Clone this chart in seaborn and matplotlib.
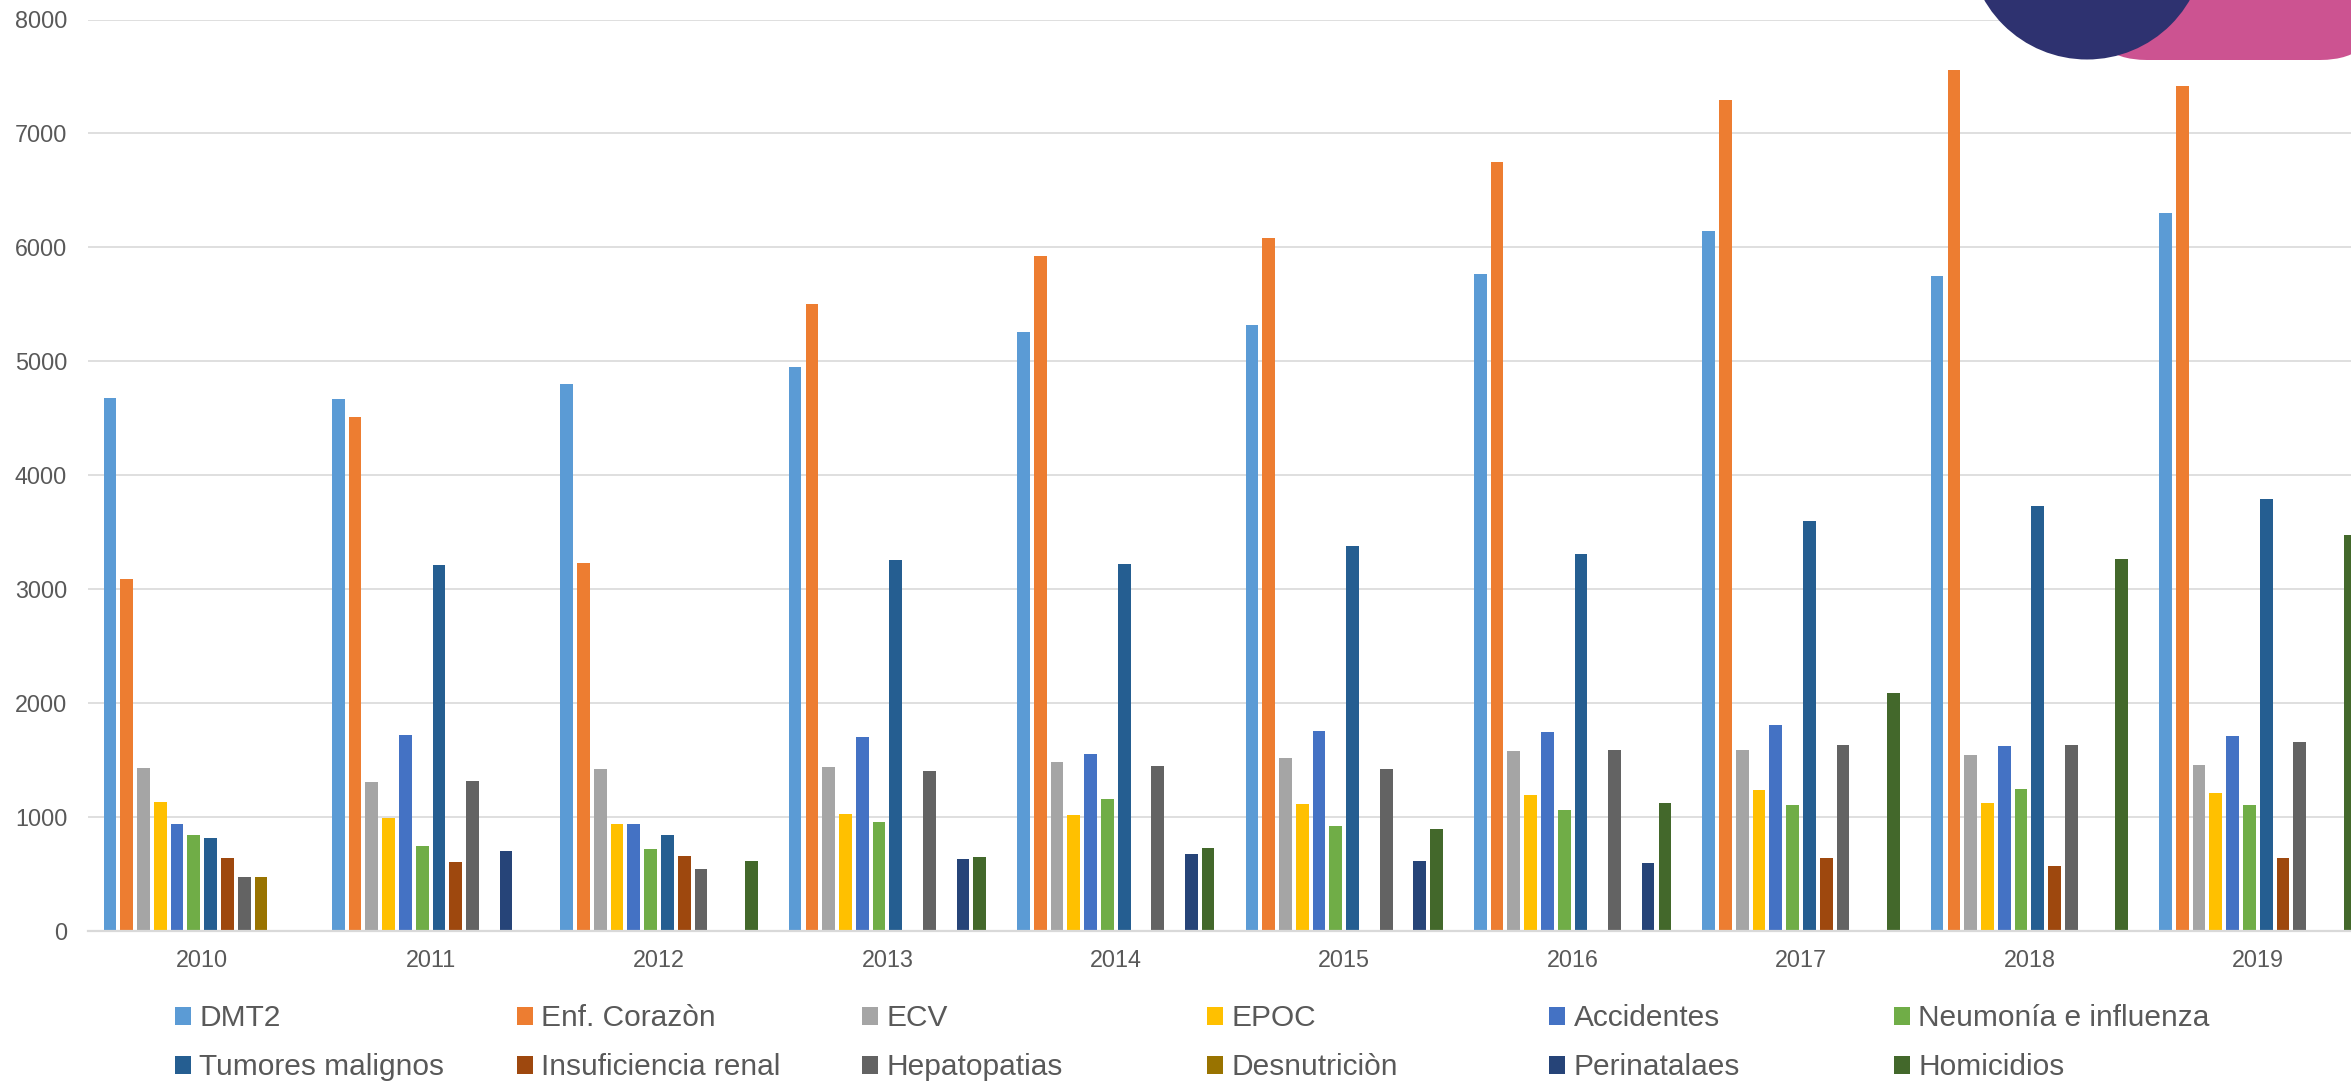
import numpy as np
import pandas as pd
import matplotlib
matplotlib.use("Agg")
import matplotlib.pyplot as plt
import seaborn as sns
from matplotlib.patches import Circle, FancyBboxPatch

nan = np.nan
years = ["2010", "2011", "2012", "2013", "2014", "2015", "2016", "2017", "2018", "2019"]
causes = ["DMT2", "Enf. Corazòn", "ECV", "EPOC", "Accidentes", "Neumonía e influenza",
          "Tumores malignos", "Insuficiencia renal", "Hepatopatias", "Desnutriciòn",
          "Perinatalaes", "Homicidios"]
colors = ["#5B9BD5", "#ED7D31", "#A5A5A5", "#FFC000", "#4472C4", "#70AD47",
          "#255E91", "#9E480E", "#636363", "#997300", "#264478", "#43682B"]

dmt2 = [4675, 4665, 4800, 4950, 5260, 5320, 5770, 6140, 5750, 6305]
enf_corazon = [3090, 4510, 3230, 5500, 5925, 6080, 6745, 7290, 7560, 7415]
ecv = [1430, 1310, 1418, 1436, 1485, 1518, 1579, 1585, 1547, 1459]
epoc = [1129, 988, 939, 1023, 1015, 1111, 1190, 1234, 1120, 1208]
accidentes = [941, 1716, 941, 1705, 1556, 1757, 1749, 1807, 1626, 1713]
neumonia = [845, 743, 719, 959, 1158, 924, 1058, 1105, 1243, 1108]
tumores = [819, 3208, 839, 3257, 3225, 3377, 3313, 3597, 3727, 3790]
insuf_renal = [643, 602, 655, nan, nan, nan, nan, 637, 573, 643]
hepatopatias = [477, 1319, 547, 1401, 1444, 1424, 1591, 1635, 1635, 1655]
desnutricion = [471, nan, nan, nan, nan, nan, nan, nan, nan, nan]
perinatales = [nan, 705, nan, 629, 678, 617, 599, nan, nan, nan]
homicidios = [nan, nan, 611, 646, 731, 898, 1120, 2091, 3263, 3477]

series = [dmt2, enf_corazon, ecv, epoc, accidentes, neumonia, tumores,
          insuf_renal, hepatopatias, desnutricion, perinatales, homicidios]

rows = []
for cause, vals in zip(causes, series):
    for yr, v in zip(years, vals):
        if not np.isnan(v):
            rows.append({"year": yr, "cause": cause, "value": v})
df = pd.DataFrame(rows)

sns.set_style("white")
plt.rcParams["font.family"] = ["Liberation Sans", "DejaVu Sans"]

W, H = 2351, 1082
fig = plt.figure(figsize=(W / 100, H / 100), dpi=100)
ax_left, ax_right = 88, 88 + 2284
ax_top, ax_bottom = 19.5, 931
ax = fig.add_axes([ax_left / W, 1 - ax_bottom / H, (ax_right - ax_left) / W, (ax_bottom - ax_top) / H])

sns.barplot(data=df, x="year", y="value", hue="cause", order=years, hue_order=causes,
            palette=colors, width=0.8816, dodge=True, errorbar=None, saturation=1,
            ax=ax, legend=True)

handles, labels = ax.get_legend_handles_labels()
if ax.legend_ is not None:
    ax.legend_.remove()

for p in ax.patches:
    w = p.get_width()
    p.set_x(p.get_x() + w * 0.12)
    p.set_width(w * 0.76)
    p.set_linewidth(0)

ax.set_xlim(-0.5, 9.5)
ax.set_ylim(0, 8000)
ax.set_yticks(range(0, 8001, 1000))
ax.set_xlabel("")
ax.set_ylabel("")
ax.set_axisbelow(True)
ax.grid(axis="y", color="#D9D9D9", linewidth=1.2)
ax.grid(axis="x", visible=False)
for s in ["top", "right", "left"]:
    ax.spines[s].set_visible(False)
ax.spines["bottom"].set_color("#D9D9D9")
ax.spines["bottom"].set_linewidth(1.6)
ax.tick_params(axis="y", length=0, pad=15, labelsize=16.8, labelcolor="#595959")
ax.tick_params(axis="x", length=0, pad=13, labelsize=16.8, labelcolor="#595959")

# Legend: 6 columns, 2 rows, row-major order
col_x = [175, 517, 862, 1207, 1549, 1894]
leg_top = 1004.5
for c in range(6):
    hs = [handles[c], handles[c + 6]]
    ls = [labels[c], labels[c + 6]]
    leg = fig.legend(hs, ls, loc="upper left",
                     bbox_to_anchor=(col_x[c] / W, 1 - leg_top / H),
                     bbox_transform=fig.transFigure, frameon=False,
                     fontsize=21.5, labelcolor="#595959",
                     handlelength=0.52, handleheight=0.52, handletextpad=0.3,
                     borderpad=0, borderaxespad=0, labelspacing=0.70)

# Decorative shapes (top right)
deco = fig.add_axes([0, 0, 1, 1], zorder=10)
deco.set_xlim(0, W)
deco.set_ylim(H, 0)
deco.axis("off")
deco.patch.set_alpha(0)
deco.add_patch(FancyBboxPatch((2087, -120), 2380 - 2087, 180,
                              boxstyle="round,pad=0,rounding_size=60",
                              facecolor="#CC5391", edgecolor="none"))
deco.add_patch(Circle((2087, -59), 118.5, facecolor="#2E3270", edgecolor="none"))

fig.savefig("out.png", dpi=100)
